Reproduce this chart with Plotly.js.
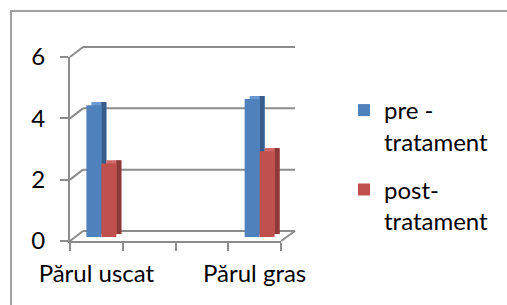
<!DOCTYPE html>
<html>
<head>
<meta charset="utf-8">
<script src="https://cdn.plot.ly/plotly-3.0.1.min.js"></script>
<style>
html,body{margin:0;padding:0;background:#fff;}
#wrap{position:relative;width:507px;height:305px;overflow:hidden;}
#chart{position:absolute;left:0;top:0;width:507px;height:305px;}
#frame{position:absolute;left:10px;top:10px;width:600px;height:400px;border-left:2px solid #a0a0a0;border-top:2px solid #a0a0a0;pointer-events:none;}
</style>
</head>
<body>
<div id="wrap"><div id="chart"></div><div id="frame"></div></div>
<script>
// ---- data ----
const categories = ["Părul uscat", " ", "  ", "Părul gras"];
const preValues = [4.3, null, null, 4.5];
const postValues = [2.4, null, null, 2.8];
const seriesNames = ["pre -<br>tratament", "post-<br>tratament"];
const yTickVals = [0, 2, 4, 6];

// ---- geometry (pixels) ----
const W = 507, H = 305;
const FONT = "Lato, 'Open Sans', sans-serif";
const GRID = "#8c8c8c";
const front = {x0: 70, x1: 281, yZero: 241, yTop: 57};
const back = {x0: 83, x1: 295, yZero: 231, yTop: 47};
const bars = {x0: 75, x1: 286, yZero: 237, yTop: 53};
const px = v => v / W;
const py = v => (H - v) / H;
const dom = g => ({x: [px(g.x0), px(g.x1)], y: [py(g.yZero), py(g.yTop)]});
const yMax = 6;

const barW = 0.284, depthX = 0.095, depthY = 0.1;
const styles = [
  {front: "#4F81BD", top: "#6A99D3", side: "#385D8A", offset: -barW},
  {front: "#C0504D", top: "#D06A67", side: "#8C3A38", offset: 0}
];
const seriesValues = [preValues, postValues];

const traces = [];
traces.push({type: "scatter", mode: "markers", x: categories, y: categories.map(() => null),
  xaxis: "x", yaxis: "y", showlegend: false, hoverinfo: "skip"});

seriesValues.forEach((vals, i) => {
  const s = styles[i];
  const grp = "s" + i;
  // top face
  traces.push({type: "bar", x: categories, y: vals, base: depthY, offset: s.offset + depthX, width: barW, legendgroup: grp,
    marker: {color: s.top, line: {width: 0}}, xaxis: "x3", yaxis: "y3", showlegend: false, hoverinfo: "skip"});
  // side face
  traces.push({type: "bar", x: categories, y: vals, base: depthY, offset: s.offset + barW, width: depthX, legendgroup: grp,
    marker: {color: s.side, line: {width: 0}}, xaxis: "x3", yaxis: "y3", showlegend: false, hoverinfo: "skip"});
  // front face
  traces.push({type: "bar", x: categories, y: vals, offset: s.offset, width: barW, name: seriesNames[i], legendgroup: grp,
    marker: {color: s.front, line: {width: 0}}, xaxis: "x3", yaxis: "y3", showlegend: true, hoverinfo: "skip"});
});

const fy = t => py(front.yZero - (front.yZero - front.yTop) * t / yMax);
const by = t => py(back.yZero - (back.yZero - back.yTop) * t / yMax);
const shapes = [];
yTickVals.forEach(t => {
  // side-wall diagonal
  shapes.push({type: "line", layer: "below", xref: "paper", yref: "paper", x0: px(front.x0), y0: fy(t), x1: px(back.x0), y1: by(t),
    line: {color: GRID, width: 2}});
  // back-wall gridline
  shapes.push({type: "line", layer: "below", xref: "paper", yref: "paper", x0: px(back.x0), y0: by(t), x1: px(back.x1), y1: by(t),
    line: {color: GRID, width: 2}});
});
shapes.push({type: "line", layer: "below", xref: "paper", yref: "paper", x0: px(front.x1), y0: fy(0), x1: px(back.x1), y1: by(0),
  line: {color: GRID, width: 2}});

const catAxis = {type: "category", categoryorder: "array", categoryarray: categories, range: [-0.5, 3.5], fixedrange: true};

const layout = {
  width: W, height: H,
  margin: {l: 0, r: 0, t: 0, b: 0},
  paper_bgcolor: "#fff", plot_bgcolor: "rgba(0,0,0,0)",
  font: {family: FONT, size: 24, color: "#000"},
  barmode: "overlay",
  showlegend: true,
  legend: {x: px(344), y: py(88), xanchor: "left", yanchor: "top", valign: "top", traceorder: "grouped",
    font: {family: FONT, size: 24, color: "#000"}, bgcolor: "rgba(0,0,0,0)", tracegroupgap: 14},
  xaxis: Object.assign({}, catAxis, {domain: dom(front).x, anchor: "y", showline: true, linecolor: GRID, linewidth: 2,
    ticks: "outside", tickson: "boundaries", ticklen: 8, tickwidth: 2, tickcolor: GRID, showgrid: false, zeroline: false,
    tickangle: 0, ticklabelstandoff: 10, tickfont: {family: FONT, size: 24, color: "#000"}}),
  yaxis: {domain: dom(front).y, anchor: "x", range: [0, yMax], tickvals: yTickVals, showline: true, linecolor: GRID, linewidth: 2,
    ticks: "outside", ticklen: 8, tickwidth: 2, tickcolor: GRID, showgrid: false, zeroline: false,
    ticklabelstandoff: 10, tickfont: {family: FONT, size: 24, color: "#000"}},
  xaxis3: Object.assign({}, catAxis, {domain: dom(bars).x, anchor: "y3", visible: false}),
  yaxis3: {domain: dom(bars).y, anchor: "x3", range: [0, yMax], visible: false},
  shapes: shapes
};

Plotly.newPlot("chart", traces, layout, {staticPlot: true, displayModeBar: false});
</script>
</body>
</html>
